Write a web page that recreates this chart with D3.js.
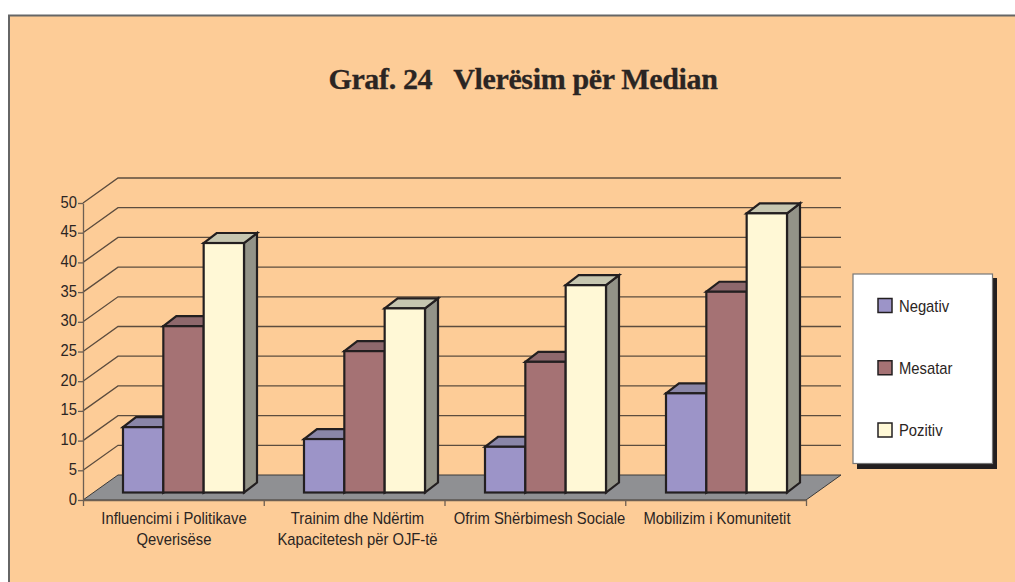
<!DOCTYPE html>
<html><head><meta charset="utf-8">
<script src="https://cdnjs.cloudflare.com/ajax/libs/d3/7.8.5/d3.min.js"></script>
<style>html,body{margin:0;padding:0;background:#fff}svg{display:block}</style></head>
<body><svg id="c" width="1015" height="582"></svg>
<script>
const categories = [["Influencimi i Politikave","Qeverisëse"],["Trainim dhe Ndërtim","Kapacitetesh për OJF-të"],["Ofrim Shërbimesh Sociale"],["Mobilizim i Komunitetit"]];
const seriesNames = ["Negativ","Mesatar","Pozitiv"];
const negativ = [11,9,7.7,16.7];
const mesatar = [28,23.8,22,33.8];
const pozitiv = [42,31,34.9,47];
const yTicks = [0,5,10,15,20,25,30,35,40,45,50];
const values = [negativ,mesatar,pozitiv];
const front = ["#9C94C8","#A57274","#FFF8D6"];
const topC = ["#8A86A8","#8E686C","#C6C6B0"];
const sideC = ["#77739A","#7E5C60","#939388"];
const ink = "#231f20", FONT = "'Liberation Sans',Arial,sans-serif";
const svg = d3.select("#c");
const DX = 35, DY = -25, bdx = 13, bdy = -10, lift = -7.5;
const left = 83, right = 807;
const y = d3.scaleLinear().domain([0,50]).range([500,203]);
const x0 = d3.scaleBand().domain(d3.range(categories.length)).range([left,right]);
const x1 = d3.scaleBand().domain(d3.range(3)).range([40,161]);
const edges = d3.scaleLinear().domain([0,categories.length]).range([left,right-1]);
const labelNudge = [0.5,3,4,0.5];

svg.append("rect").attr("x",9).attr("y",15.5).attr("width",1010).attr("height",570)
  .attr("fill","#FDCC97").attr("stroke","#666").attr("stroke-width",2);

svg.append("text").attr("x",523).attr("y",89).attr("text-anchor","middle")
  .attr("font-family","'Liberation Serif',serif").attr("font-weight","bold").attr("font-size",30)
  .attr("fill","#2b2523").attr("stroke","#2b2523").attr("stroke-width",0.3).style("white-space","pre").style("letter-spacing","-0.35px")
  .text("Graf. 24   Vlerësim për Median");

// grid on the side and back walls
svg.append("g").selectAll("path").data(yTicks.filter(d=>d>0)).join("path")
  .attr("fill","none").attr("stroke","#5c4c3e").attr("stroke-width",1.3)
  .attr("d",d=>d3.line()([[left,y(d)],[left+DX,y(d)+DY],[right-1+DX,y(d)+DY]]));

// floor
svg.append("path").attr("fill","#8F9093").attr("stroke","#3a3a3a").attr("stroke-width",1)
  .attr("d",d3.line()([[left,y(0)],[left+DX,y(0)+DY],[right-1+DX,y(0)+DY],[right-1,y(0)]])+"Z");

// bars
const w = x1.bandwidth();
categories.forEach((c,i)=>{
  [2,1,0].forEach(s=>{
    const g = svg.append("g").attr("stroke",ink).attr("stroke-width",2.2).attr("stroke-linejoin","miter");
    const xl = x0(i)+x1(s), xr = xl+w, yt = y(values[s][i])+lift, yb = y(0)+lift;
    g.append("path").attr("fill",sideC[s]).attr("d",d3.line()([[xr,yt],[xr+bdx,yt+bdy],[xr+bdx,yb+bdy],[xr,yb]])+"Z");
    g.append("path").attr("fill",topC[s]).attr("d",d3.line()([[xl,yt],[xl+bdx,yt+bdy],[xr+bdx,yt+bdy],[xr,yt]])+"Z");
  });
  [0,1,2].forEach(s=>{
    const xl = x0(i)+x1(s), yt = y(values[s][i])+lift, yb = y(0)+lift;
    svg.append("rect").attr("x",xl).attr("y",yt).attr("width",w).attr("height",yb-yt)
      .attr("fill",front[s]).attr("stroke",ink).attr("stroke-width",2.2);
  });
});

function styleAxis(g){
  g.selectAll("path,line").attr("stroke","#6d5f52").attr("stroke-width",1.3);
  g.selectAll("text").remove();
}
const ya = svg.append("g").attr("transform",`translate(${left},0)`).call(d3.axisLeft(y).tickValues(yTicks).tickSize(5).tickSizeOuter(0)).call(styleAxis);
const xa = svg.append("g").attr("transform",`translate(0,${y(0)})`).call(d3.axisBottom(edges).tickValues(d3.range(categories.length+1)).tickSize(6).tickSizeOuter(0)).call(styleAxis);

const squeeze = .87;
function label(t,px,py,anchor){
  svg.append("text").attr("transform",`translate(${px},${py}) scale(${squeeze},1)`)
    .attr("text-anchor",anchor).attr("font-family",FONT).attr("font-size",17).attr("fill","#2b2523").text(t);
}
yTicks.forEach(d=>label(d,77,y(d)+4.5,"end"));
categories.forEach((c,i)=>c.forEach((t,k)=>label(t,x0(i)+x0.bandwidth()/2+labelNudge[i],523.5+k*21,"middle")));

// legend
svg.append("rect").attr("x",857).attr("y",278).attr("width",140).attr("height",191).attr("fill",ink);
svg.append("rect").attr("x",853).attr("y",274).attr("width",139.5).attr("height",189.5).attr("fill","#fff").attr("stroke","#777").attr("stroke-width",1.2);
const ly = d3.scalePoint().domain(seriesNames).range([305.5,430]);
seriesNames.forEach((n,s)=>{
  svg.append("rect").attr("x",878).attr("y",ly(n)-7).attr("width",14).attr("height",14)
    .attr("fill",front[s]).attr("stroke",ink).attr("stroke-width",1.5);
  label(n,899,ly(n)+6,"start");
});
</script></body></html>
